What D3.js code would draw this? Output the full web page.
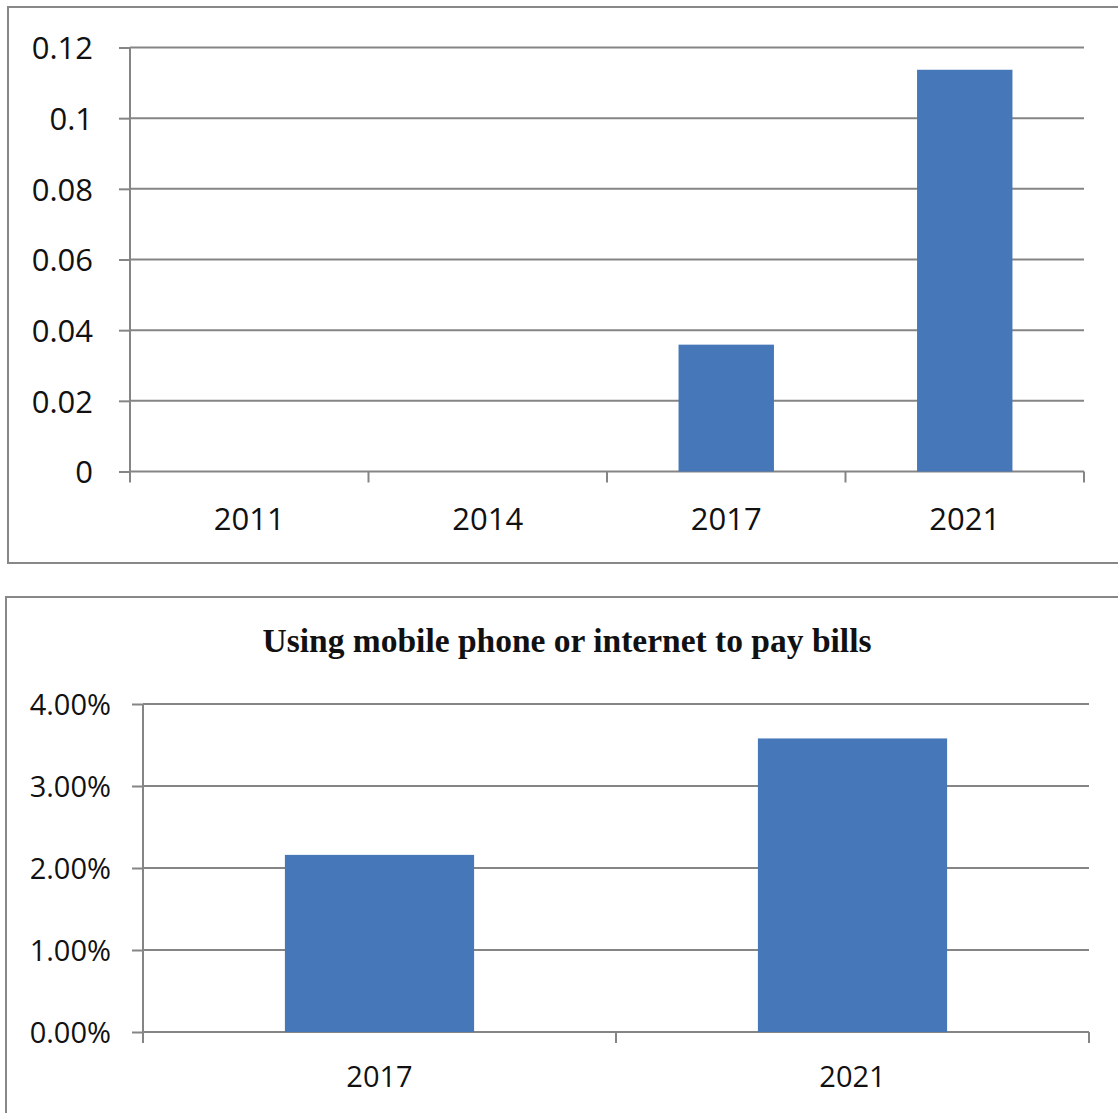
<!DOCTYPE html>
<html>
<head>
<meta charset="utf-8">
<script src="https://cdn.jsdelivr.net/npm/d3@7.9.0/dist/d3.min.js"></script>
<style>
  body { margin: 0; background: #fff; }
  svg { display: block; }
</style>
</head>
<body>
<div id="chart"></div>
<script>
// top chart
const topYears = ["2011", "2014", "2017", "2021"];
const topValues = [0, 0, 0.0359, 0.1137];
const topTicks = [0, 0.02, 0.04, 0.06, 0.08, 0.1, 0.12];

// bottom chart
const bottomTitle = "Using mobile phone or internet to pay bills";
const bottomYears = ["2017", "2021"];
const bottomValues = [0.0216, 0.0358];
const bottomTicks = [0, 0.01, 0.02, 0.03, 0.04];

const barColor = "#4677b8";
const gridColor = "#858585";

const svg = d3.select("#chart")
    .append("svg")
    .attr("width", 1118)
    .attr("height", 1113);

// panel frames
svg.append("rect")
    .attr("x", 8).attr("y", 7)
    .attr("width", 1120).attr("height", 556)
    .attr("fill", "none")
    .attr("stroke", "#888")
    .attr("stroke-width", 2);

svg.append("rect")
    .attr("x", 6).attr("y", 597)
    .attr("width", 1120).attr("height", 530)
    .attr("fill", "none")
    .attr("stroke", "#888")
    .attr("stroke-width", 2);

function drawPanel(p) {
    const g = svg.append("g");

    const x = d3.scaleBand()
        .domain(p.years)
        .range([p.left, p.right])
        .paddingInner(0.6)
        .paddingOuter(0.3);

    const y = d3.scaleLinear()
        .domain([0, p.ticks[p.ticks.length - 1]])
        .range([p.bottom, p.top]);

    // gridlines
    g.selectAll(".grid")
        .data(p.ticks)
        .join("line")
        .attr("class", "grid")
        .attr("x1", p.left)
        .attr("x2", p.right)
        .attr("y1", d => y(d))
        .attr("y2", d => y(d))
        .attr("stroke", gridColor)
        .attr("stroke-width", 2);

    // bars
    g.selectAll(".bar")
        .data(p.values.map((v, i) => ({ year: p.years[i], value: v })))
        .join("rect")
        .attr("class", "bar")
        .attr("x", d => x(d.year))
        .attr("width", x.bandwidth())
        .attr("y", d => y(d.value))
        .attr("height", d => y(0) - y(d.value))
        .attr("fill", barColor);

    // y axis
    const yAxis = d3.axisLeft(y)
        .tickValues(p.ticks)
        .tickFormat(p.format)
        .tickSizeInner(11)
        .tickSizeOuter(0)
        .tickPadding(p.labelGap);

    const ya = g.append("g")
        .attr("transform", `translate(${p.left},0)`)
        .call(yAxis);
    ya.select(".domain").remove();
    ya.selectAll(".tick line").attr("stroke", gridColor).attr("stroke-width", 2);
    ya.selectAll(".tick text")
        .attr("font-family", "'Open Sans', sans-serif")
        .attr("font-size", p.fontSize)
        .attr("fill", "#111")
        .attr("dy", "0.36em");

    g.append("line")
        .attr("x1", p.left).attr("x2", p.left)
        .attr("y1", p.top).attr("y2", p.bottom + 11)
        .attr("stroke", gridColor)
        .attr("stroke-width", 2);

    // x axis category boundary ticks
    const bounds = d3.range(p.years.length + 1).map(i => p.left + i * x.step());
    g.selectAll(".xtick")
        .data(bounds.slice(1))
        .join("line")
        .attr("class", "xtick")
        .attr("x1", d => d).attr("x2", d => d)
        .attr("y1", p.bottom).attr("y2", p.bottom + 11)
        .attr("stroke", gridColor)
        .attr("stroke-width", 2);

    g.selectAll(".xlabel")
        .data(p.years)
        .join("text")
        .attr("class", "xlabel")
        .attr("x", d => x(d) + x.bandwidth() / 2)
        .attr("y", p.labelY)
        .attr("text-anchor", "middle")
        .attr("font-family", "'Open Sans', sans-serif")
        .attr("font-size", p.fontSize)
        .attr("fill", "#111")
        .text(d => d);

    if (p.title) {
        g.append("text")
            .attr("x", 567)
            .attr("y", p.titleY)
            .attr("text-anchor", "middle")
            .attr("font-family", "'Liberation Serif', 'Times New Roman', serif")
            .attr("font-weight", "bold")
            .attr("font-size", 33.5)
            .attr("fill", "#111")
            .text(p.title);
    }
}

drawPanel({
    years: topYears,
    values: topValues,
    ticks: topTicks,
    format: d3.format("~g"),
    left: 130, right: 1084,
    top: 47.5, bottom: 471.5,
    labelGap: 26,
    labelY: 530,
    fontSize: 31
});

drawPanel({
    years: bottomYears,
    values: bottomValues,
    ticks: bottomTicks,
    format: d3.format(".2%"),
    left: 143, right: 1089,
    top: 704, bottom: 1032,
    labelGap: 21,
    labelY: 1087,
    fontSize: 29,
    title: bottomTitle,
    titleY: 652
});
</script>
</body>
</html>
